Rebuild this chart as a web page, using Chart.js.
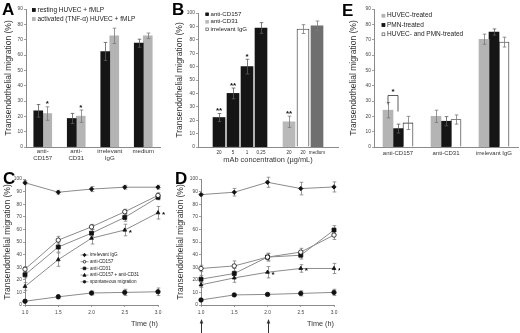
<!DOCTYPE html>
<html>
<head>
<meta charset="utf-8">
<script src="https://cdn.jsdelivr.net/npm/chart.js@4/dist/chart.umd.min.js"></script>
<style>
html,body{margin:0;padding:0;background:#fff;}
#wrap{position:relative;width:520px;height:333px;overflow:hidden;background:#fff;}
#wrap canvas{position:absolute;}
.lt{position:absolute;font-family:"Liberation Sans",Arial,sans-serif;font-weight:bold;font-size:17px;line-height:1;color:#000;}
</style>
</head>
<body>
<div id="wrap">
<canvas id="cA" width="168" height="170" style="left:0px;top:0px"></canvas>
<canvas id="cB" width="172" height="170" style="left:168px;top:0px"></canvas>
<canvas id="cE" width="178" height="170" style="left:342px;top:0px"></canvas>
<canvas id="cC" width="172" height="173" style="left:0px;top:160px"></canvas>
<canvas id="cD" width="168" height="173" style="left:172px;top:160px"></canvas>
<div class="lt" style="left:2px;top:1px">A</div>
<div class="lt" style="left:172px;top:1px">B</div>
<div class="lt" style="left:342px;top:2px">E</div>
<div class="lt" style="left:3px;top:170px">C</div>
<div class="lt" style="left:175px;top:170px">D</div>
</div>
<script>
// ================= DATA =================
const yTitle = "Transendothelial migration (%)";

// Panel A
const aCategories = [["anti-","CD157"],["anti-","CD31"],["irrelevant","IgG"],"medium"];
const aSeriesNames = ["resting HUVEC + fMLP", "activated (TNF-\u03b1) HUVEC + fMLP"];
const aResting = [23.6, 18.6, 62.3, 67.7];
const aRestingErr = [4.1, 3.3, 5.9, 2.6];
const aActivated = [21.8, 20.1, 72.5, 72.5];
const aActivatedErr = [4.4, 4.0, 5.0, 1.8];
const aActivatedStars = ["*", "*", "", ""];

// Panel B
const bLabels = ["", "20", "5", "1", "0.25", "", "20", "20", "medium", ""];
const bXTitle = "mAb concentration (\u00b5g/mL)";
const bSeriesNames = ["anti-CD157", "anti-CD31", "irrelevant IgG", "medium"];
const bAntiCD157 =      [null, 22, 40, 60, 88.8, null, null, null, null, null];
const bAntiCD157Err =   [null, 3, 4, 5.5, 4, null, null, null, null, null];
const bAntiCD157Stars = ["", "**", "**", "*", "", "", "", "", "", ""];
const bAntiCD31 =       [null, null, null, null, null, null, 18.8, null, null, null];
const bAntiCD31Err =    [null, null, null, null, null, null, 4.2, null, null, null];
const bAntiCD31Stars =  ["", "", "", "", "", "", "**", "", "", ""];
const bIgG =            [null, null, null, null, null, null, null, 88, null, null];
const bIgGErr =         [null, null, null, null, null, null, null, 3.3, null, null];
const bMedium =         [null, null, null, null, null, null, null, null, 90.5, null];
const bMediumErr =      [null, null, null, null, null, null, null, null, 3.5, null];

// Panel E
const eCategories = ["anti-CD157", "anti-CD31", "irrelevant IgG"];
const eSeriesNames = ["HUVEC-treated", "PMN-treated", "HUVEC- and PMN-treated"];
const eHUVEC = [24, 20, 70.3];
const eHUVECErr = [5, 4, 3.3];
const ePMN = [12, 16.8, 75];
const ePMNErr = [2.9, 3, 2];
const eBoth = [15.7, 17.9, 68.4];
const eBothErr = [4.3, 3, 3.2];
const eSignif = [{category: 0, from: 0, to: 1, label: "*"}];

// Panels C and D (time course)
const lineSeriesNames = ["irrelevant IgG", "anti-CD157", "anti-CD31", "anti-CD157 + anti-CD31", "spontaneous migration"];
const cTimes = [1, 1.5, 2, 2.5, 3];
const cIgG = [97, 89.5, 92, 93.5, 93.5];
const cIgGErr = [1.5, 1.5, 2, 1.5, 1.5];
const cCD157 = [28.4, 51.5, 62, 74, 87];
const cCD157Err = [2, 3, 2, 2, 2];
const cCD31 = [24, 46, 57, 69.5, 85.5];
const cCD31Err = [2.5, 4, 3, 3, 2];
const cCombo = [14.7, 36, 53, 59.5, 73.2];
const cComboErr = [3, 5.3, 4.6, 4.6, 5];
const cComboStars = ["", "", "", "*", "*"];
const cSpont = [3, 6.5, 9.5, 10, 10.5];
const cSpontErr = [1, 1.5, 1.5, 2.5, 3];

const dTimes = [1, 1.5, 2, 2.5, 3];
const dIgG = [87.6, 89.5, 97.4, 92.4, 93.7];
const dIgGErr = [1, 3, 4, 5, 4];
const dCD157 = [29, 31, 38, 42, 55.5];
const dCD157Err = [2.5, 4, 3, 3, 3.5];
const dCD31 = [20.5, 25, 38, 39.5, 59.5];
const dCD31Err = [3, 4, 3, 3, 3.5];
const dCombo = [16, 21.5, 26, 29, 29];
const dComboErr = [2, 3.5, 4.5, 3, 4];
const dComboStars = ["", "", "*", "*", "*"];
const dSpont = [4, 8, 8.4, 9.2, 10];
const dSpontErr = [1, 1, 1, 2, 2.5];
const dArrowTimes = [1, 2];

// ================= HELPERS =================
const FONT = '"Liberation Sans", Arial, Helvetica, sans-serif';
Chart.defaults.font.family = FONT;
Chart.defaults.color = '#333';
const AXIS = '#8a8a8a';

function drawMarker(ctx, style, x, y, r, fill, stroke) {
  ctx.save();
  ctx.fillStyle = fill; ctx.strokeStyle = stroke; ctx.lineWidth = 0.8;
  ctx.beginPath();
  if (style === 'rect') ctx.rect(x - r, y - r, 2 * r, 2 * r);
  else if (style === 'rectRot') { ctx.moveTo(x, y - r * 1.3); ctx.lineTo(x + r * 1.3, y); ctx.lineTo(x, y + r * 1.3); ctx.lineTo(x - r * 1.3, y); ctx.closePath(); }
  else if (style === 'triangle') { ctx.moveTo(x, y - r * 1.3); ctx.lineTo(x + r * 1.2, y + r * 0.9); ctx.lineTo(x - r * 1.2, y + r * 0.9); ctx.closePath(); }
  else ctx.arc(x, y, r, 0, Math.PI * 2);
  ctx.fill(); ctx.stroke();
  ctx.restore();
}

function valAt(ds, i) { return ds.values ? ds.values[i] : ds.data[i]; }

function drawErrors(chart) {
  const ctx = chart.ctx, ys = chart.scales.y;
  chart.data.datasets.forEach((ds, di) => {
    if (!ds.errors) return;
    const meta = chart.getDatasetMeta(di);
    ctx.save();
    ctx.strokeStyle = ds.errorColor || '#777';
    ctx.lineWidth = 0.8;
    meta.data.forEach((el, i) => {
      const v = valAt(ds, i), e = ds.errors[i];
      if (v == null || e == null) return;
      const x = Math.round(el.x) + 0.5;
      const yt = ys.getPixelForValue(v + e), yb = ys.getPixelForValue(v - e);
      const cap = 1.8;
      ctx.beginPath();
      ctx.moveTo(x, yt); ctx.lineTo(x, yb);
      ctx.moveTo(x - cap, yt); ctx.lineTo(x + cap, yt);
      ctx.moveTo(x - cap, yb); ctx.lineTo(x + cap, yb);
      ctx.stroke();
    });
    ctx.restore();
  });
}
const barErrorPlugin = { id: 'barErrors', afterDatasetsDraw(chart) { drawErrors(chart); } };
const lineErrorPlugin = { id: 'lineErrors', beforeDatasetsDraw(chart) { drawErrors(chart); } };

const starPlugin = {
  id: 'stars',
  afterDatasetsDraw(chart) {
    const ctx = chart.ctx, ys = chart.scales.y;
    ctx.save();
    ctx.fillStyle = '#111';
    ctx.font = 'bold 8px ' + FONT;
    ctx.textBaseline = 'alphabetic';
    chart.data.datasets.forEach((ds, di) => {
      if (!ds.stars) return;
      const meta = chart.getDatasetMeta(di);
      meta.data.forEach((el, i) => {
        const s = ds.stars[i];
        if (!s) return;
        const v = valAt(ds, i), e = (ds.errors && ds.errors[i]) || 0;
        if (ds.starSide === 'right') {
          ctx.textAlign = 'left';
          ctx.fillText(s, el.x + 4, el.y + 4.5);
        } else {
          ctx.textAlign = 'center';
          ctx.fillText(s, el.x, ys.getPixelForValue(v + e) - 0.5);
        }
      });
    });
    ctx.restore();
  }
};

function makeLegend(o) {
  return {
    id: 'miniLegend',
    afterDraw(chart) {
      const ctx = chart.ctx;
      ctx.save();
      ctx.font = o.size + 'px ' + FONT;
      ctx.textBaseline = 'middle';
      ctx.textAlign = 'left';
      let y = o.y;
      chart.data.datasets.forEach(ds => {
        if (ds.hideLegend) return;
        if (o.kind === 'box') {
          ctx.fillStyle = ds.backgroundColor;
          ctx.fillRect(o.x, y - o.box / 2, o.box, o.box);
          ctx.strokeStyle = ds.legendBorder || ds.backgroundColor;
          ctx.lineWidth = 0.7;
          ctx.strokeRect(o.x + 0.35, y - o.box / 2 + 0.35, o.box - 0.7, o.box - 0.7);
          ctx.fillStyle = '#222';
          ctx.fillText(ds.label, o.x + o.box + o.gap, y);
        } else {
          ctx.strokeStyle = ds.borderColor; ctx.lineWidth = 0.8;
          ctx.beginPath(); ctx.moveTo(o.x, y); ctx.lineTo(o.x + o.len, y); ctx.stroke();
          drawMarker(ctx, ds.pointStyle, o.x + o.len / 2, y, 1.3, ds.pointBackgroundColor, ds.pointBorderColor);
          ctx.fillStyle = '#222';
          ctx.fillText(ds.label, o.x + o.len + o.gap, y);
        }
        y += o.step;
      });
      ctx.restore();
    }
  };
}

function makeBracket(sig) {
  return {
    id: 'bracket',
    afterDatasetsDraw(chart) {
      const ctx = chart.ctx, ys = chart.scales.y;
      sig.forEach(s => {
        const d0 = chart.data.datasets[s.from], d1 = chart.data.datasets[s.to];
        const x0 = chart.getDatasetMeta(s.from).data[s.category].x;
        const x1 = chart.getDatasetMeta(s.to).data[s.category].x;
        const t0 = ys.getPixelForValue(d0.data[s.category] + d0.errors[s.category]);
        const t1 = ys.getPixelForValue(d1.data[s.category] + d1.errors[s.category]);
        const top = Math.round(Math.min(t0, t1) - 7.5) + 0.5;
        ctx.save();
        ctx.strokeStyle = '#333'; ctx.lineWidth = 0.8;
        ctx.beginPath();
        ctx.moveTo(x0, top + 9); ctx.lineTo(x0, top); ctx.lineTo(x1, top); ctx.lineTo(x1, top + 16);
        ctx.stroke();
        ctx.fillStyle = '#111'; ctx.font = 'bold 8px ' + FONT; ctx.textAlign = 'center'; ctx.textBaseline = 'alphabetic';
        ctx.fillText(s.label, (x0 + x1) / 2, top - 2);
        ctx.restore();
      });
    }
  };
}

function makeArrows(times) {
  return {
    id: 'arrows',
    afterDraw(chart) {
      const ctx = chart.ctx, xs = chart.scales.x;
      ctx.save();
      ctx.strokeStyle = '#333'; ctx.fillStyle = '#333'; ctx.lineWidth = 1;
      times.forEach(t => {
        const x = Math.round(xs.getPixelForValue(t)) + 0.5;
        const top = chart.height - 14;
        ctx.beginPath(); ctx.moveTo(x, chart.height); ctx.lineTo(x, top + 3); ctx.stroke();
        ctx.beginPath(); ctx.moveTo(x, top); ctx.lineTo(x - 1.8, top + 4.5); ctx.lineTo(x + 1.8, top + 4.5); ctx.closePath(); ctx.fill();
      });
      ctx.restore();
    }
  };
}

function yScale(max, width, titlePad) {
  return {
    min: 0, max: max,
    ticks: {stepSize: 10, font: {size: 4.8}, color: '#444', padding: 1.2},
    grid: {drawOnChartArea: false, tickLength: 2, color: AXIS, lineWidth: 0.8},
    border: {color: AXIS, width: 1},
    title: {display: true, text: yTitle, font: {size: 8.5}, color: '#333', padding: {top: titlePad, bottom: 0}},
    afterFit: (s) => { s.width = width; }
  };
}

function barX(fontSize, pad, extra) {
  return Object.assign({
    grid: {display: false, drawTicks: false, tickLength: 0},
    border: {color: AXIS, width: 1},
    ticks: {font: {size: fontSize}, color: '#333', padding: pad, autoSkip: false, maxRotation: 0},
    afterFit: (s) => { s.height = 23; }
  }, extra || {});
}

function lineX(ticks) {
  return {
    type: 'linear', min: ticks[0], max: ticks[ticks.length - 1],
    afterBuildTicks: (s) => { s.ticks = ticks.map(v => ({value: v})); },
    ticks: {font: {size: 4.8}, color: '#444', padding: 2.5},
    grid: {drawOnChartArea: false, tickLength: 2, color: AXIS, lineWidth: 0.8},
    border: {color: AXIS, width: 1},
    title: {display: true, text: 'Time (h)', align: 'end', font: {size: 7.3}, color: '#333', padding: {top: 0, bottom: 5}},
    afterFit: (s) => { s.height = 28; }
  };
}

const common = {
  responsive: false, animation: false, devicePixelRatio: 1, events: [],
  plugins: {legend: {display: false}, tooltip: {enabled: false}}
};

// ================= PANEL A =================
new Chart(document.getElementById('cA'), {
  type: 'bar',
  data: {
    labels: aCategories,
    datasets: [
      {label: aSeriesNames[0], data: aResting, errors: aRestingErr, backgroundColor: '#151515', errorColor: '#5a5a5a', barThickness: 9},
      {label: aSeriesNames[1], data: aActivated, errors: aActivatedErr, stars: aActivatedStars, backgroundColor: '#b4b4b4', errorColor: '#7a7a7a', barThickness: 9}
    ]
  },
  options: Object.assign({}, common, {
    layout: {padding: {top: 9, right: 8, left: 0, bottom: 0}},
    scales: {x: barX(6.1, 0.5), y: yScale(90, 26, 3.9)}
  }),
  plugins: [barErrorPlugin, starPlugin, makeLegend({kind: 'box', x: 32, y: 10, step: 9, box: 3.5, gap: 2, size: 6.5})]
});

// ================= PANEL B =================
new Chart(document.getElementById('cB'), {
  type: 'bar',
  data: {
    labels: bLabels,
    datasets: [
      {label: bSeriesNames[0], data: bAntiCD157, errors: bAntiCD157Err, stars: bAntiCD157Stars, backgroundColor: '#151515', errorColor: '#5a5a5a'},
      {label: bSeriesNames[1], data: bAntiCD31, errors: bAntiCD31Err, stars: bAntiCD31Stars, backgroundColor: '#b9b9b9', errorColor: '#7a7a7a'},
      {label: bSeriesNames[2], data: bIgG, errors: bIgGErr, backgroundColor: '#ffffff', borderColor: '#222', borderWidth: 0.8, legendBorder: '#555', errorColor: '#7a7a7a'},
      {label: bSeriesNames[3], data: bMedium, errors: bMediumErr, backgroundColor: '#6f6f6f', errorColor: '#7a7a7a', hideLegend: true}
    ]
  },
  options: Object.assign({}, common, {
    datasets: {bar: {barThickness: 12, skipNull: true}},
    layout: {padding: {top: 13, right: 2, left: 0, bottom: 0}},
    scales: {
      x: barX(4.6, 2.5, {title: {display: true, text: bXTitle, font: {size: 7.4}, color: '#333', padding: {top: 0, bottom: 6}}}),
      y: yScale(100, 30, 6.4)
    }
  }),
  plugins: [barErrorPlugin, starPlugin, makeLegend({kind: 'box', x: 37.5, y: 14.3, step: 7.5, box: 3.2, gap: 1.8, size: 6.1})]
});

// ================= PANEL E =================
new Chart(document.getElementById('cE'), {
  type: 'bar',
  data: {
    labels: eCategories,
    datasets: [
      {label: eSeriesNames[0], data: eHUVEC, errors: eHUVECErr, backgroundColor: '#b4b4b4', errorColor: '#7a7a7a'},
      {label: eSeriesNames[1], data: ePMN, errors: ePMNErr, backgroundColor: '#151515', errorColor: '#5a5a5a'},
      {label: eSeriesNames[2], data: eBoth, errors: eBothErr, backgroundColor: '#ffffff', borderColor: '#222', borderWidth: 0.8, legendBorder: '#555', errorColor: '#7a7a7a'}
    ]
  },
  options: Object.assign({}, common, {
    datasets: {bar: {barThickness: 10}},
    layout: {padding: {top: 9, right: 2, left: 0, bottom: 0}},
    scales: {x: barX(6, 3), y: yScale(90, 32, 6.9)}
  }),
  plugins: [barErrorPlugin, makeBracket(eSignif), makeLegend({kind: 'box', x: 39.7, y: 15.7, step: 9.3, box: 3.5, gap: 1.8, size: 6.5})]
});

// ================= PANELS C & D =================
function lineDs(times, name, vals, errs, style, filled, stars) {
  return {
    label: name, data: times.map((t, i) => ({x: t, y: vals[i]})), values: vals, errors: errs,
    stars: stars, starSide: 'right',
    borderColor: '#8c8c8c', borderWidth: 1, tension: 0, clip: false,
    pointStyle: style, pointRadius: style === 'rect' ? 2.8 : 2.2,
    pointBackgroundColor: filled ? '#111' : '#fff', pointBorderColor: '#111', pointBorderWidth: 0.8,
    errorColor: '#7f7f7f'
  };
}

new Chart(document.getElementById('cC'), {
  type: 'line',
  data: {
    datasets: [
      lineDs(cTimes, lineSeriesNames[0], cIgG, cIgGErr, 'rectRot', true),
      lineDs(cTimes, lineSeriesNames[1], cCD157, cCD157Err, 'circle', false),
      lineDs(cTimes, lineSeriesNames[2], cCD31, cCD31Err, 'rect', true),
      lineDs(cTimes, lineSeriesNames[3], cCombo, cComboErr, 'triangle', true, cComboStars),
      lineDs(cTimes, lineSeriesNames[4], cSpont, cSpontErr, 'circle', true)
    ]
  },
  options: Object.assign({}, common, {
    layout: {padding: {top: 19, right: 14, left: 0, bottom: 0}},
    scales: {x: lineX(cTimes), y: yScale(100, 25, 2.4)}
  }),
  plugins: [lineErrorPlugin, starPlugin, makeLegend({kind: 'line', x: 80.5, y: 95, step: 6.7, len: 8, gap: 1.5, size: 4.6})]
});

new Chart(document.getElementById('cD'), {
  type: 'line',
  data: {
    datasets: [
      lineDs(dTimes, lineSeriesNames[0], dIgG, dIgGErr, 'rectRot', true),
      lineDs(dTimes, lineSeriesNames[1], dCD157, dCD157Err, 'circle', false),
      lineDs(dTimes, lineSeriesNames[2], dCD31, dCD31Err, 'rect', true),
      lineDs(dTimes, lineSeriesNames[3], dCombo, dComboErr, 'triangle', true, dComboStars),
      lineDs(dTimes, lineSeriesNames[4], dSpont, dSpontErr, 'circle', true)
    ]
  },
  options: Object.assign({}, common, {
    layout: {padding: {top: 19, right: 6, left: 0, bottom: 0}},
    scales: {x: lineX(dTimes), y: yScale(100, 29, 3.9)}
  }),
  plugins: [lineErrorPlugin, starPlugin, makeArrows(dArrowTimes)]
});
</script>
</body>
</html>
